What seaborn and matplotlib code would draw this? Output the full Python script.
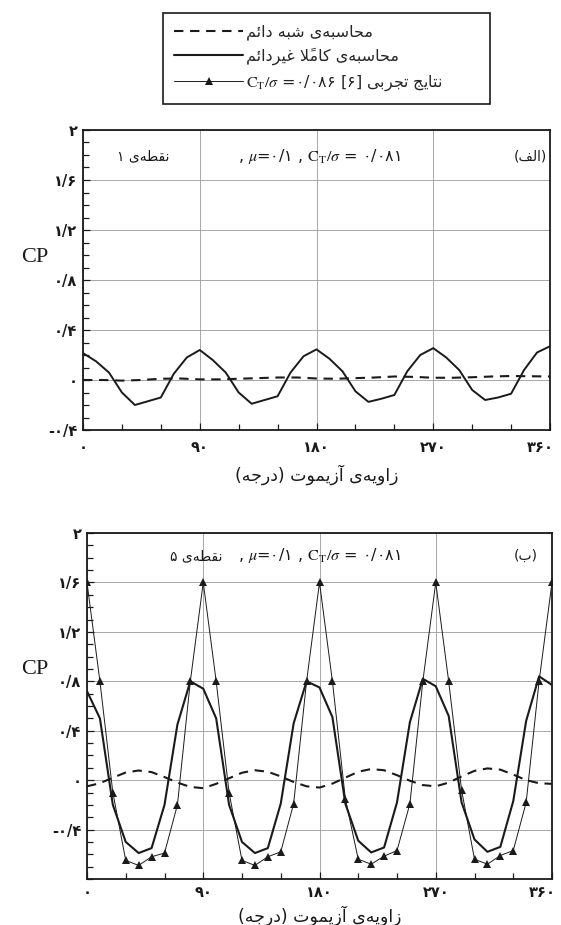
import matplotlib
matplotlib.use("Agg")
import matplotlib.pyplot as plt
import seaborn as sns
import pandas as pd
from matplotlib.ticker import MultipleLocator
from matplotlib.transforms import ScaledTranslation

# ---------------- data ----------------
angles = list(range(0, 361, 10))            # azimuth, degrees
angles_qs_top = list(range(0, 361, 15))

# panel (الف): point 1
top_unsteady = [0.215, 0.15, 0.06, -0.10, -0.20, -0.17, -0.14, 0.05, 0.18,
                0.24, 0.16, 0.06, -0.10, -0.19, -0.16, -0.13, 0.06, 0.19,
                0.245, 0.17, 0.07, -0.09, -0.175, -0.15, -0.12, 0.07, 0.20,
                0.255, 0.18, 0.08, -0.08, -0.16, -0.14, -0.11, 0.08, 0.22,
                0.27]
top_quasi = [0.0, 0.0, -0.005, 0.0, 0.01, 0.012, 0.005, 0.005, 0.01, 0.015,
             0.02, 0.02, 0.012, 0.01, 0.015, 0.02, 0.028, 0.025, 0.018, 0.018,
             0.022, 0.028, 0.032, 0.03, 0.028]

# panel (ب): point 5
bot_unsteady = [0.72, 0.50, -0.20, -0.50, -0.59, -0.55, -0.20, 0.45, 0.80,
                0.74, 0.50, -0.20, -0.50, -0.59, -0.55, -0.19, 0.46, 0.80,
                0.75, 0.51, -0.19, -0.49, -0.585, -0.545, -0.18, 0.47, 0.82,
                0.76, 0.52, -0.18, -0.48, -0.58, -0.54, -0.17, 0.48, 0.84,
                0.77]
bot_quasi = [-0.05, -0.025, 0.02, 0.062, 0.078, 0.065, 0.025, -0.02, -0.055,
             -0.065, -0.03, 0.015, 0.06, 0.08, 0.068, 0.03, -0.015, -0.05,
             -0.06, -0.028, 0.02, 0.068, 0.09, 0.08, 0.04, -0.005, -0.04,
             -0.05, -0.02, 0.03, 0.075, 0.095, 0.085, 0.045, 0.0, -0.025,
             -0.03]
bot_exp = [1.6, 0.8, -0.10, -0.65, -0.69, -0.62, -0.59, -0.20, 0.80,
           1.6, 0.8, -0.10, -0.65, -0.69, -0.62, -0.58, -0.19, 0.80,
           1.6, 0.8, -0.15, -0.64, -0.68, -0.615, -0.57, -0.19, 0.80,
           1.6, 0.8, -0.08, -0.64, -0.68, -0.61, -0.57, -0.18, 0.80,
           1.6]

xtick_vals = [0, 90, 180, 270, 360]
xtick_labels = ["۰", "۹۰", "۱۸۰", "۲۷۰", "۳۶۰"]
ytick_vals = [-0.4, 0, 0.4, 0.8, 1.2, 1.6, 2.0]
ytick_labels = ["-۰/۴", "۰", "۰/۴", "۰/۸", "۱/۲", "۱/۶", "۲"]

# ---------------- minimal Persian shaping (matplotlib has no RTL shaping) ----
FORMS = {
    '\u0627': ('\uFE8D', '\uFE8E', None, None),
    '\u0622': ('\uFE81', '\uFE82', None, None),
    '\u0626': ('\uFE89', '\uFE8A', '\uFE8B', '\uFE8C'),
    '\u0628': ('\uFE8F', '\uFE90', '\uFE91', '\uFE92'),
    '\u062A': ('\uFE95', '\uFE96', '\uFE97', '\uFE98'),
    '\u062C': ('\uFE9D', '\uFE9E', '\uFE9F', '\uFEA0'),
    '\u062D': ('\uFEA1', '\uFEA2', '\uFEA3', '\uFEA4'),
    '\u062F': ('\uFEA9', '\uFEAA', None, None),
    '\u0631': ('\uFEAD', '\uFEAE', None, None),
    '\u0632': ('\uFEAF', '\uFEB0', None, None),
    '\u0633': ('\uFEB1', '\uFEB2', '\uFEB3', '\uFEB4'),
    '\u0634': ('\uFEB5', '\uFEB6', '\uFEB7', '\uFEB8'),
    '\u0637': ('\uFEC1', '\uFEC2', '\uFEC3', '\uFEC4'),
    '\u063A': ('\uFECD', '\uFECE', '\uFECF', '\uFED0'),
    '\u0641': ('\uFED1', '\uFED2', '\uFED3', '\uFED4'),
    '\u0642': ('\uFED5', '\uFED6', '\uFED7', '\uFED8'),
    '\u0644': ('\uFEDD', '\uFEDE', '\uFEDF', '\uFEE0'),
    '\u0645': ('\uFEE1', '\uFEE2', '\uFEE3', '\uFEE4'),
    '\u0646': ('\uFEE5', '\uFEE6', '\uFEE7', '\uFEE8'),
    '\u0647': ('\uFEE9', '\uFEEA', '\uFEEB', '\uFEEC'),
    '\u0648': ('\uFEED', '\uFEEE', None, None),
    '\u06A9': ('\uFB8E', '\uFB8F', '\uFB90', '\uFB91'),
    '\u06CC': ('\uFEEF', '\uFEF0', '\uFEF3', '\uFEF4'),
}
LAM_ALEF = {'\u0627': ('\uFEFB', '\uFEFC'), '\u0622': ('\uFEF5', '\uFEF6')}
MARKS = set('\u064B\u064C\u064D\u064E\u064F\u0650\u0651\u0652')
DIGITS = set('۰۱۲۳۴۵۶۷۸۹0123456789')
MIRROR = {'(': ')', ')': '(', '[': ']', ']': '['}


def _jt(c):
    if c in FORMS:
        return 'D' if FORMS[c][2] else 'R'
    if c in MARKS:
        return 'T'
    return 'U'


def fa(s):
    ch = list(s)
    n = len(ch)
    clusters = []
    i = 0
    while i < n:
        c = ch[i]
        t = _jt(c)
        if t in ('D', 'R'):
            j = i - 1
            while j >= 0 and _jt(ch[j]) == 'T':
                j -= 1
            pj = j >= 0 and _jt(ch[j]) == 'D'
            k = i + 1
            while k < n and _jt(ch[k]) == 'T':
                k += 1
            if c == '\u0644' and k < n and ch[k] in LAM_ALEF:
                g = LAM_ALEF[ch[k]][1 if pj else 0]
                m = k + 1
                while m < n and _jt(ch[m]) == 'T':
                    m += 1
                clusters.append(g + ''.join(ch[i + 1:k]) + ''.join(ch[k + 1:m]))
                i = m
                continue
            nj = t == 'D' and k < n and _jt(ch[k]) in ('D', 'R')
            f = FORMS[c]
            g = f[3] if (pj and nj) else f[1] if pj else f[2] if nj else f[0]
            clusters.append(g + ''.join(ch[i + 1:k]))
            i = k
        else:
            if c != '\u200C':
                clusters.append(c)
            i += 1
    tokens = []
    for cl in clusters:
        isnum = cl[0] in DIGITS
        if tokens and isnum and tokens[-1][0]:
            tokens[-1][1].append(cl)
        else:
            tokens.append([isnum, [cl]])
    out = ''
    for isnum, cls in reversed(tokens):
        if isnum:
            out += ''.join(cls)
        else:
            out += ''.join(MIRROR.get(c, c) for c in reversed(cls))
    return out


# ---------------- style ----------------
sns.set_theme(style="ticks")
plt.rcParams['font.family'] = ['DejaVu Sans']
plt.rcParams['mathtext.fontset'] = 'stix'
INK = '#1a1a1a'
GRID = '#9a9a9a'

fig = plt.figure(figsize=(5.61, 9.25), dpi=100)
ax1 = fig.add_axes([83 / 561, 1 - 430 / 925, 467 / 561, 300 / 925])
ax2 = fig.add_axes([87 / 561, 1 - 879 / 925, 465 / 561, 346 / 925])

df_top_u = pd.DataFrame({'angle': angles, 'cp': top_unsteady})
df_top_q = pd.DataFrame({'angle': angles_qs_top, 'cp': top_quasi})
df_bot_u = pd.DataFrame({'angle': angles, 'cp': bot_unsteady})
df_bot_q = pd.DataFrame({'angle': angles, 'cp': bot_quasi})
df_bot_e = pd.DataFrame({'angle': angles, 'cp': bot_exp})

dash = (0, (4.5, 3.2))
sns.lineplot(data=df_top_q, x='angle', y='cp', ax=ax1, color=INK, lw=1.5,
             linestyle=dash, legend=False)
sns.lineplot(data=df_top_u, x='angle', y='cp', ax=ax1, color=INK, lw=1.4,
             legend=False)

sns.lineplot(data=df_bot_q, x='angle', y='cp', ax=ax2, color=INK, lw=1.5,
             linestyle=dash, legend=False)
sns.lineplot(data=df_bot_u, x='angle', y='cp', ax=ax2, color=INK, lw=1.5,
             legend=False)
sns.lineplot(data=df_bot_e, x='angle', y='cp', ax=ax2, color=INK, lw=0.7,
             marker='^', markersize=5.5, markeredgewidth=0, legend=False)

for ax, ylo, tpad, lpad in ((ax1, -0.4, 7, 7), (ax2, -0.8, 4, 4)):
    ax.set_xlim(0, 360)
    ax.set_ylim(ylo, 2.0)
    ax.set_xticks(xtick_vals, labels=xtick_labels)
    ax.set_yticks(ytick_vals, labels=ytick_labels)
    ax.xaxis.set_minor_locator(MultipleLocator(30))
    ax.yaxis.set_minor_locator(MultipleLocator(0.1))
    ax.tick_params(which='both', direction='in', top=False, right=False,
                   colors=INK, labelsize=10.5, width=0.9)
    ax.tick_params(which='major', length=5, pad=4)
    ax.tick_params(axis='x', which='major', pad=tpad)
    ax.tick_params(which='minor', length=4)
    for lbl in ax.get_xticklabels() + ax.get_yticklabels():
        lbl.set_fontweight('bold')
    ax.grid(True, which='major', color=GRID, lw=0.6)
    for sp in ax.spines.values():
        sp.set_color(INK)
        sp.set_linewidth(1.3)
    ax.set_ylabel('')
    ax.set_xlabel(fa('زاویه‌ی آزیموت (درجه)'), fontsize=12.5, labelpad=lpad,
                  color=INK)
    # keep the 360 label inside the page
    last = ax.xaxis.get_major_ticks()[-1].label1
    last.set_transform(last.get_transform() +
                       ScaledTranslation(-7 / 72, 0, fig.dpi_scale_trans))

# panel annotations
ax1.text(0.957, 0.913, fa('(الف)'), transform=ax1.transAxes, ha='center',
         va='center', fontsize=10, color=INK)
ax1.text(0.506, 0.913, r', $\mu$=۰/۱ , $\mathrm{C_T}/\sigma$ = ۰/۰۸۱',
         transform=ax1.transAxes, ha='center', va='center', fontsize=11.5,
         family='DejaVu Sans', color=INK)
ax1.text(0.128, 0.913, fa('نقطه‌ی ۱'), transform=ax1.transAxes, ha='center',
         va='center', fontsize=10, color=INK)

ax2.text(0.944, 0.934, fa('(ب)'), transform=ax2.transAxes, ha='center',
         va='center', fontsize=10, color=INK)
ax2.text(0.500, 0.934, r', $\mu$=۰/۱ , $\mathrm{C_T}/\sigma$ = ۰/۰۸۱',
         transform=ax2.transAxes, ha='center', va='center', fontsize=11.5,
         family='DejaVu Sans', color=INK)
ax2.text(0.2355, 0.934, fa('نقطه‌ی ۵'), transform=ax2.transAxes, ha='center',
         va='center', fontsize=10, color=INK)

fig.text(35 / 561, 1 - 257 / 925, 'CP', family='Liberation Serif', fontsize=16,
         ha='center', va='center', color=INK)
fig.text(35 / 561, 1 - 670 / 925, 'CP', family='Liberation Serif', fontsize=16,
         ha='center', va='center', color=INK)

# legend
handles = ax2.get_lines()[:3]
labels = [fa('محاسبه‌ی شبه دائم'),
          fa('محاسبه‌ی کاملاً غیردائم'),
          r'$\mathrm{C_T}/\sigma$ =۰/۰۸۶ [۶] ' + fa('نتایج تجربی')]
leg = fig.legend(handles, labels, loc='upper left',
                 bbox_to_anchor=(163 / 561, 1 - 100 / 925, 327 / 561, 87 / 925),
                 mode='expand', borderaxespad=0,
                 frameon=True, fancybox=False, edgecolor=INK, framealpha=1,
                 handlelength=4.3, handletextpad=0.2, borderpad=0.7,
                 labelspacing=0.5, prop={'family': 'DejaVu Sans', 'size': 11.5})
leg.get_frame().set_linewidth(1.2)

fig.savefig('out.png', dpi=100, facecolor='white')
